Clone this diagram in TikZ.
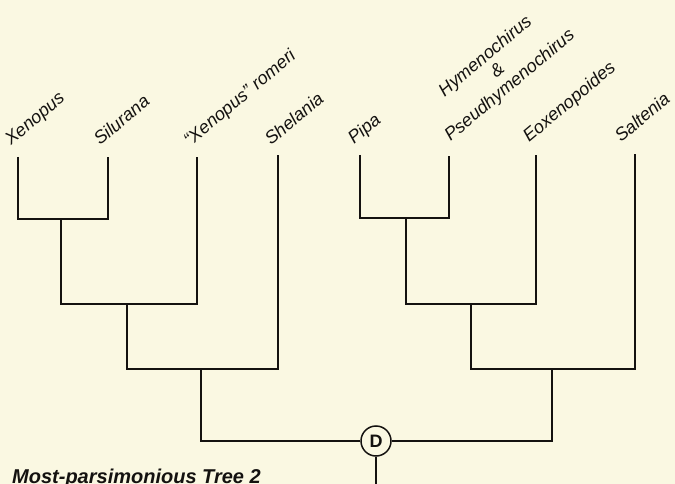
\documentclass[tikz,border=0pt]{standalone}
\usepackage{fontspec}
\setmainfont{Liberation Sans}
\definecolor{paper}{RGB}{250,248,226}
\definecolor{ink}{RGB}{20,18,16}
\begin{document}
\begin{tikzpicture}[x=1pt,y=-1pt,draw=ink,
	taxon/.style={rotate=40,anchor=base west,inner sep=0pt,text=ink},
	branch/.style={line width=2.8pt}]
			\newcommand{\mytaxonfont}[1]{
				\fontsize{18}{19}\selectfont\itshape{#1}
			}\newcommand{\mytitlefont}[1]{
				\fontsize{20}{24}\selectfont\bfseries\itshape{#1}
			}%Paper
			\fill[paper] (0,0) rectangle (675,484);
			\useasboundingbox (0,0) rectangle (675,484);
			%Tips of the branches
			\coordinate (tXen) at (18,157);
			\coordinate (tSil) at (108,157);
			\coordinate (tRom) at (197,157);
			\coordinate (tShe) at (278,155);
			\coordinate (tPip) at (360,155);
			\coordinate (tPse) at (449,156);
			\coordinate (tEox) at (536,155);
			\coordinate (tSal) at (635,154);
			%Branching points, left clade
			\coordinate (nXS) at (61,219);
			\coordinate (nXSR) at (127,304);
			\coordinate (nXSRS) at (201,369);
			%Branching points, right clade
			\coordinate (nPP) at (406,218);
			\coordinate (nPPE) at (471,304);
			\coordinate (nPPES) at (552,369);
			%Root node D
			\node [circle,draw,line width=1.5pt,fill=paper,minimum size=30pt,inner sep=0pt,text=ink] (D) at (376,441) {\fontsize{18}{20}\selectfont\bfseries D};
			\coordinate (bottom) at (376,484);
			%Left clade
			\draw [branch] (tXen) |- (nXS) -| (tSil);
			\draw [branch] (nXS) |- (nXSR) -| (tRom);
			\draw [branch] (nXSR) |- (nXSRS) -| (tShe);
			%Right clade
			\draw [branch] (tPip) |- (nPP) -| (tPse);
			\draw [branch] (nPP) |- (nPPE) -| (tEox);
			\draw [branch] (nPPE) |- (nPPES) -| (tSal);
			%Root
			\draw [branch] (nXSRS) |- (D) -| (nPPES);
			\draw [line width=2.2pt] (D) -- (bottom);
			%The taxa
			\coordinate (wXen) at (11,146);
			\coordinate (wSil) at (100,146);
			\coordinate (wRom) at (190,147);
			\coordinate (wShe) at (271,146);
			\coordinate (wPip) at (354,145);
			\coordinate (wPse) at (453,145);
			\coordinate (wEox) at (529,143);
			\coordinate (wSal) at (621,143);
			\node [taxon] (lXen) at (wXen) {\mytaxonfont{Xenopus}};
			\node [taxon] (lSil) at (wSil) {\mytaxonfont{Silurana}};
			\node [taxon] (lRom) at (wRom) {\mytaxonfont{“Xenopus” romeri}};
			\node [taxon] (lShe) at (wShe) {\mytaxonfont{Shelania}};
			\node [taxon] (lPip) at (wPip) {\mytaxonfont{Pipa}};
			\node [taxon,anchor=south west,align=center,font=\fontsize{18}{19}\selectfont\itshape] (lPse) at (wPse) {Hymenochirus\\\&\\Pseudhymenochirus};
			\node [taxon] (lEox) at (wEox) {\mytaxonfont{Eoxenopoides}};
			\node [taxon] (lSal) at (wSal) {\mytaxonfont{Saltenia}};
			%Caption
			\coordinate (cap) at (12,483.5);
			\node [anchor=base west,inner sep=0pt,text=ink] (title) at (cap) {\mytitlefont{Most-parsimonious Tree 2}};
			\end{tikzpicture}
\end{document}
